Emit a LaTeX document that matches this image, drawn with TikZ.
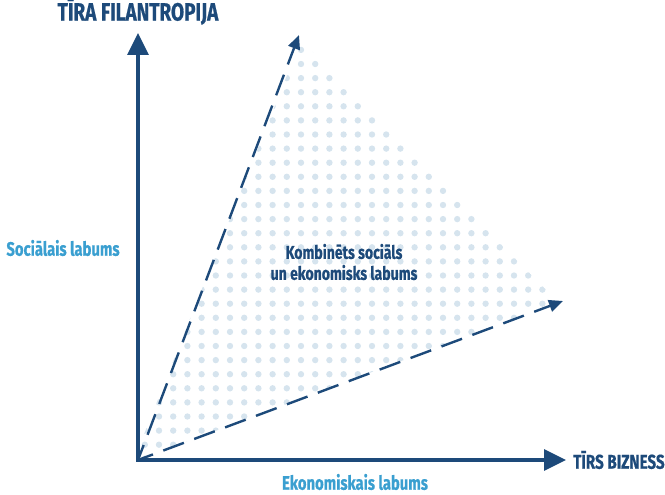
\documentclass[tikz,border=0pt]{standalone}
\usepackage{fontspec}
\usepackage{tikz}
\usetikzlibrary{positioning}
\usetikzlibrary{arrows.meta}
\newfontfamily\condfont[FakeStretch=0.76, FakeBold=0.6]{Fira Sans}
\definecolor{axisblue}{HTML}{1D4A7A}
\definecolor{labelblue}{HTML}{3A9FD0}
\definecolor{dotblue}{HTML}{D6E4EE}

\begin{document}
\begin{tikzpicture}[x=1pt, y=-1pt,
axisline/.style={draw=axisblue, line width=3.5pt, line join=miter, {Triangle[length=22pt, width=21pt]}-{Triangle[length=22pt, width=21pt]}},
dashline/.style={draw=axisblue, line width=2.4pt, dash pattern=on 22pt off 11pt, dash phase=6pt, -{Triangle[length=14pt, width=12pt]}},
axistitle/.style={inner sep=0pt, text=axisblue, font=\condfont\bfseries\fontsize{25}{28}\selectfont},
axislabel/.style={inner sep=0pt, text=labelblue, font=\condfont\bfseries\fontsize{19.5}{22}\selectfont},
midlabel/.style={inner sep=0pt, align=center, text=axisblue, font=\condfont\bfseries\fontsize{18.5}{21}\selectfont},
]
\useasboundingbox (0,0) rectangle (665,495);
%Points
\coordinate (origin) at (138,460);
\coordinate (ytip)   at (138,33);
\coordinate (xtip)   at (566,460);
\coordinate (dtop)   at (299,35);
\coordinate (dright) at (563,301);

%Dots
\begin{scope}
\clip (133,462) -- (301,40) -- (558,302) -- cycle;
\foreach \i in {0,...,32}
  \foreach \j in {0,...,32}
    \fill[dotblue] (130.6+14.2*\i, 21.7+14.1*\j) circle (3.2pt);
\end{scope}

%Nodes
\node[axistitle]              (purephil)                          [above=8pt of ytip]   {TĪRA FILANTROPIJA};
\node[axistitle, font=\condfont\bfseries\fontsize{20}{23}\selectfont] (purebiz) [right=7pt of xtip] {TĪRS BIZNESS};
\node[axislabel]              (social)         at (63,248)                              {Sociālais labums};
\node[axislabel]              (economic)       at (355,482)                             {Ekonomiskais labums};
\node[midlabel]               (combined)       at (344,262)                             {Kombinēts sociāls\\un ekonomisks labums};

%Lines
\draw[axisline] (ytip) -- (origin) -- (xtip);
\draw[dashline] (origin) -- (dtop);
\draw[dashline] (origin) -- (dright);
\end{tikzpicture}
\end{document}
